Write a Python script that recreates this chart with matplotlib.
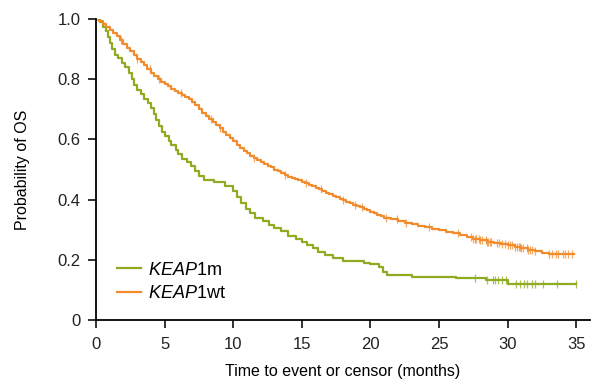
import numpy as np
import matplotlib
matplotlib.use("Agg")
import matplotlib.pyplot as plt

plt.rcParams["font.family"] = ["Liberation Sans", "DejaVu Sans"]
plt.rcParams["mathtext.fontset"] = "custom"
plt.rcParams["mathtext.rm"] = "Liberation Sans"
plt.rcParams["mathtext.it"] = "Liberation Sans:italic"

# Kaplan-Meier step data: event times (months) and survival after each step
m_time = [0.0, 0.3, 0.5, 0.7, 0.9, 1.0, 1.2, 1.4, 1.6, 1.9, 2.1, 2.4, 2.6, 2.8, 3.0,
          3.3, 3.5, 3.8, 4.0, 4.2, 4.4, 4.6, 4.8, 5.0, 5.3, 5.5, 5.8, 6.0, 6.3, 6.6,
          6.9, 7.2, 7.5, 7.9, 8.6, 9.4, 10.0, 10.3, 10.6, 10.9, 11.2, 11.6, 12.2, 12.6,
          13.0, 13.5, 14.0, 14.6, 15.0, 15.4, 15.8, 16.2, 16.7, 17.3, 18.0, 19.5, 20.0,
          20.6, 20.9, 21.2, 23.0, 26.2, 28.4, 30.0, 35.0]
m_surv = [1.0, 0.99, 0.975, 0.96, 0.94, 0.92, 0.90, 0.88, 0.87, 0.855, 0.84, 0.82, 0.80,
          0.78, 0.765, 0.75, 0.735, 0.72, 0.705, 0.685, 0.665, 0.645, 0.625, 0.61, 0.595,
          0.58, 0.565, 0.55, 0.535, 0.525, 0.51, 0.495, 0.48, 0.465, 0.458, 0.445, 0.43,
          0.41, 0.39, 0.37, 0.355, 0.34, 0.33, 0.315, 0.305, 0.295, 0.28, 0.27, 0.26,
          0.25, 0.24, 0.225, 0.215, 0.205, 0.195, 0.19, 0.185, 0.175, 0.16, 0.15, 0.143,
          0.138, 0.132, 0.12, 0.12]
m_cens = [27.6, 28.5, 28.9, 29.1, 29.3, 29.6, 29.9, 30.6, 30.9, 31.2, 31.4, 31.8, 32.0,
          32.6, 33.6, 35.0]

wt_time = [0.0, 0.25, 0.5, 0.75, 1.0, 1.25, 1.5, 1.75, 2.0, 2.25, 2.5, 2.75, 3.0, 3.25,
           3.5, 3.75, 4.0, 4.25, 4.5, 4.75, 5.0, 5.25, 5.5, 5.75, 6.0, 6.25, 6.5, 6.75,
           7.0, 7.25, 7.5, 7.75, 8.0, 8.25, 8.5, 8.75, 9.0, 9.25, 9.5, 9.75, 10.0, 10.25,
           10.5, 10.75, 11.0, 11.25, 11.5, 11.75, 12.0, 12.25, 12.5, 12.75, 13.0, 13.25,
           13.5, 13.75, 14.0, 14.25, 14.5, 14.75, 15.0, 15.25, 15.5, 15.75, 16.0, 16.25,
           16.5, 16.75, 17.0, 17.25, 17.5, 17.75, 18.0, 18.25, 18.5, 18.75, 19.0, 19.25,
           19.5, 19.75, 20.0, 20.25, 20.5, 20.75, 21.0, 21.5, 22.0, 22.5, 23.0, 23.5,
           24.0, 24.5, 25.0, 25.5, 26.0, 26.5, 27.0, 27.5, 28.0, 28.5, 29.0, 29.5, 30.0,
           30.5, 31.0, 31.5, 32.0, 32.5, 33.0, 34.8]
wt_surv = [1.0, 0.993, 0.983, 0.972, 0.962, 0.952, 0.942, 0.93, 0.918, 0.905, 0.893,
           0.88, 0.868, 0.857, 0.846, 0.834, 0.822, 0.81, 0.80, 0.792, 0.784, 0.776,
           0.768, 0.762, 0.755, 0.749, 0.742, 0.735, 0.725, 0.713, 0.70, 0.688, 0.677,
           0.668, 0.658, 0.648, 0.637, 0.626, 0.615, 0.605, 0.594, 0.582, 0.571, 0.562,
           0.554, 0.546, 0.539, 0.532, 0.525, 0.519, 0.513, 0.507, 0.50, 0.494, 0.488,
           0.482, 0.476, 0.472, 0.468, 0.464, 0.46, 0.455, 0.45, 0.445, 0.44, 0.434,
           0.428, 0.423, 0.418, 0.413, 0.408, 0.403, 0.398, 0.393, 0.388, 0.383, 0.378,
           0.374, 0.37, 0.365, 0.36, 0.355, 0.35, 0.345, 0.34, 0.335, 0.328, 0.322,
           0.318, 0.313, 0.308, 0.303, 0.298, 0.292, 0.288, 0.282, 0.275, 0.27, 0.265,
           0.26, 0.257, 0.252, 0.248, 0.243, 0.238, 0.233, 0.228, 0.222, 0.218, 0.218]
wt_cens = [1.8, 3.0, 3.9, 4.6, 6.2, 8.4, 9.0, 11.5, 13.8, 15.3, 16.4, 18.0, 18.9, 19.4,
           21.1, 21.9, 22.6, 24.3, 26.4, 27.3, 27.5, 27.6, 27.7, 27.9, 28.0, 28.1, 28.4,
           28.5, 28.6, 28.7, 28.8, 29.2, 29.4, 29.6, 29.8, 30.0, 30.2, 30.3, 30.5, 30.7,
           30.8, 30.9, 31.0, 31.1, 31.4, 31.5, 31.6, 31.8, 32.0, 33.0, 33.2, 33.5, 33.7,
           34.0, 34.2, 34.4, 34.7]

x_ticks = [0, 5, 10, 15, 20, 25, 30, 35]
y_ticks = [0, 0.2, 0.4, 0.6, 0.8, 1.0]
y_tick_labels = ["0", "0.2", "0.4", "0.6", "0.8", "1.0"]

green = "#8fab1f"
orange = "#f28b2c"

fig = plt.figure(figsize=(5.91, 3.82), dpi=100)
ax = fig.add_axes([96 / 591, 1 - 320 / 382, (590 - 96) / 591, (320 - 19) / 382])


def surv_at(times, surv, t):
    idx = np.searchsorted(times, t, side="right") - 1
    return np.asarray(surv)[idx]


for times, surv, cens, color, label in [
    (m_time, m_surv, m_cens, green, r"$\mathit{KEAP}$1m"),
    (wt_time, wt_surv, wt_cens, orange, r"$\mathit{KEAP}$1wt"),
]:
    ax.step(times, surv, where="post", color=color, lw=1.6, label=label)
    ax.plot(cens, surv_at(times, surv, cens), ls="none", marker="|",
            ms=6, mew=0.9, color=color, alpha=0.75)

ax.set_xlim(0, 36)
ax.set_ylim(0, 1.0)
ax.set_xticks(x_ticks)
ax.set_yticks(y_ticks)
ax.set_yticklabels(y_tick_labels)
for s in ["top", "right"]:
    ax.spines[s].set_visible(False)
for s in ["left", "bottom"]:
    ax.spines[s].set_linewidth(1.3)
ax.tick_params(direction="out", length=6, width=1.3, labelsize=12,
               colors="#222222")
ax.tick_params(axis="y", pad=5)
ax.tick_params(axis="x", pad=6)
ax.set_xlabel("Time to event or censor (months)", fontsize=11.5, labelpad=9)
ax.set_ylabel("Probability of OS", fontsize=11.5)
ax.yaxis.set_label_coords(-(96 - 30) / 494, 0.5)
ax.spines["left"].set_bounds(0, 1.0)

ax.legend(loc="lower left", bbox_to_anchor=((117 - 96) / 494, (320 - 302) / 301),
          frameon=False, borderpad=0, borderaxespad=0,
          fontsize=13, handlelength=1.35, handletextpad=0.35, labelspacing=0.35)

fig.savefig("out.png", dpi=100)
